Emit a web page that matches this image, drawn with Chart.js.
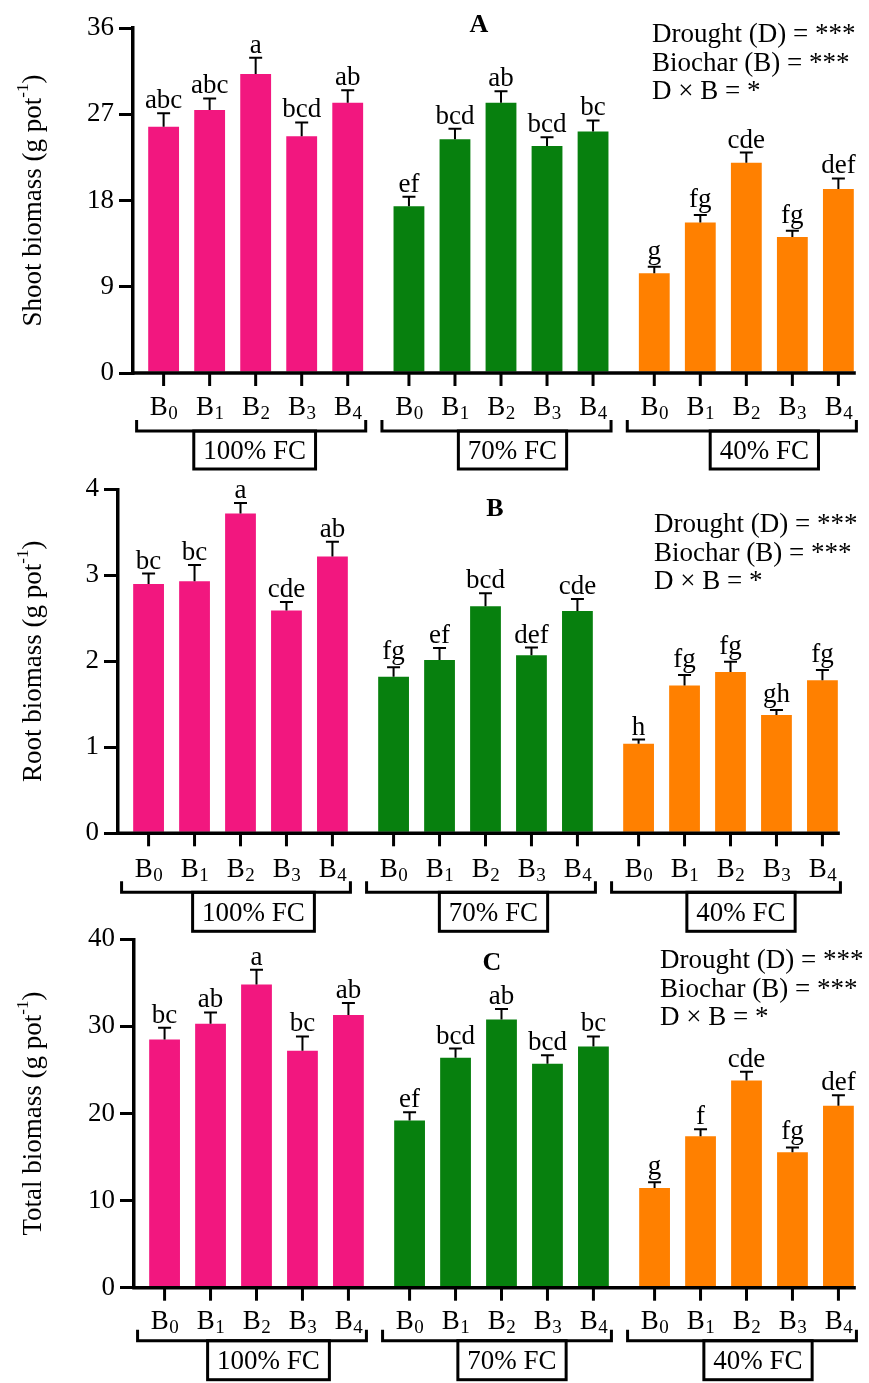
<!DOCTYPE html>
<html>
<head>
<meta charset="utf-8">
<script src="https://cdn.jsdelivr.net/npm/chart.js@4.4.1/dist/chart.umd.min.js"></script>
<style>
html, body { margin: 0; padding: 0; background: #fff; }
#wrap { position: relative; width: 869px; height: 1383px; overflow: hidden; background: #fff; }
#wrap canvas { position: absolute; left: 0; top: 0; }
</style>
</head>
<body>
<div id="wrap">
  <canvas id="shoot" width="869" height="1383"></canvas>
  <canvas id="root" width="869" height="1383"></canvas>
  <canvas id="total" width="869" height="1383"></canvas>
</div>
<script>
// biochar levels (subscript of B) and drought regimes
const biochar = ['0', '1', '2', '3', '4'];
const regimes = ['100% FC', '70% FC', '40% FC'];
const regimeColors = ['#F2177F', '#07800E', '#FF8000'];

// rows = regime, columns = B0..B4
const shootMean = [[25.7, 27.45, 31.2, 24.7, 28.2], [17.4, 24.4, 28.2, 23.7, 25.2], [10.4, 15.7, 21.95, 14.2, 19.2]];
const shootErr = [[1.4, 1.2, 1.7, 1.45, 1.3], [1.0, 1.1, 1.2, 0.9, 1.15], [0.7, 0.8, 1.05, 0.65, 1.1]];
const shootLetters = [['abc', 'abc', 'a', 'bcd', 'ab'], ['ef', 'bcd', 'ab', 'bcd', 'bc'], ['g', 'fg', 'cde', 'fg', 'def']];

const rootMean = [[2.90, 2.93, 3.72, 2.59, 3.22], [1.82, 2.015, 2.64, 2.07, 2.585], [1.04, 1.72, 1.875, 1.375, 1.78]];
const rootErr = [[0.12, 0.19, 0.12, 0.10, 0.17], [0.11, 0.14, 0.15, 0.09, 0.14], [0.05, 0.12, 0.12, 0.06, 0.12]];
const rootLetters = [['bc', 'bc', 'a', 'cde', 'ab'], ['fg', 'ef', 'bcd', 'def', 'cde'], ['h', 'fg', 'fg', 'gh', 'fg']];

const totalMean = [[28.5, 30.3, 34.8, 27.2, 31.3], [19.2, 26.4, 30.8, 25.7, 27.7], [11.45, 17.4, 23.8, 15.55, 20.9]];
const totalErr = [[1.35, 1.3, 1.7, 1.65, 1.4], [0.95, 1.05, 1.2, 1.0, 1.15], [0.65, 0.8, 1.0, 0.55, 1.2]];
const totalLetters = [['bc', 'ab', 'a', 'bc', 'ab'], ['ef', 'bcd', 'ab', 'bcd', 'bc'], ['g', 'f', 'cde', 'fg', 'def']];

const statsLines = ['Drought (D) = ***', 'Biochar (B) = ***', 'D \u00d7 B = *'];

const SERIF = '"Liberation Serif", "Times New Roman", serif';

const panels = [
    { id: 'shoot', mean: shootMean, err: shootErr, letters: shootLetters, yMax: 36, yStep: 9,
      title: 'Shoot biomass (g pot', tag: 'A',
      axisX: 133, top: 28, bottom: 373, right: 873.25,
      labelDrop: 42, bracketDrop: 58, boxH: 38,
      boxShift: [-1, 11.5, 18], tagPos: [479, 32], statsPos: [652, 42] },
    { id: 'root', mean: rootMean, err: rootErr, letters: rootLetters, yMax: 4, yStep: 1,
      title: 'Root biomass (g pot', tag: 'B',
      axisX: 118, top: 489.3, bottom: 833.3, right: 853,
      labelDrop: 44, bracketDrop: 59, boxH: 39,
      boxShift: [13, 8, 10.5], tagPos: [495, 516], statsPos: [654, 532] },
    { id: 'total', mean: totalMean, err: totalErr, letters: totalLetters, yMax: 40, yStep: 10,
      title: 'Total biomass (g pot', tag: 'C',
      axisX: 134, top: 939.3, bottom: 1287.7, right: 877.25,
      labelDrop: 41, bracketDrop: 53, boxH: 39,
      boxShift: [12, 10.5, 11.5], tagPos: [492, 970], statsPos: [660, 968] }
];

const drawExtras = (chart, p) => {
    const ctx = chart.ctx;
    const area = chart.chartArea;
    const yScale = chart.scales.y;
    ctx.save();
    ctx.fillStyle = '#000';
    ctx.strokeStyle = '#000';
    ctx.lineCap = 'butt';

    // x axis line, ending just past the last bar
    const lastBar = chart.getDatasetMeta(biochar.length - 1).data[regimes.length - 1];
    ctx.lineWidth = 3.5;
    ctx.beginPath();
    ctx.moveTo(area.left - 1.75, area.bottom);
    ctx.lineTo(lastBar.x + lastBar.width / 2 + 2, area.bottom);
    ctx.stroke();

    regimes.forEach((reg, ri) => {
        biochar.forEach((b, bi) => {
            const bar = chart.getDatasetMeta(bi).data[ri];
            const capY = yScale.getPixelForValue(p.mean[ri][bi] + p.err[ri][bi]);
            // error bar (upper half only)
            ctx.lineWidth = 2;
            ctx.beginPath();
            ctx.moveTo(bar.x, bar.y);
            ctx.lineTo(bar.x, capY);
            ctx.moveTo(bar.x - 6.5, capY);
            ctx.lineTo(bar.x + 6.5, capY);
            ctx.stroke();
            // significance letters
            const letters = p.letters[ri][bi];
            ctx.font = '27px ' + SERIF;
            ctx.textAlign = 'center';
            ctx.textBaseline = 'alphabetic';
            ctx.fillText(letters, bar.x, capY - 5 - (letters.includes('g') ? 3 : 0));
            // tick mark under bar
            ctx.lineWidth = 3;
            ctx.beginPath();
            ctx.moveTo(bar.x, area.bottom);
            ctx.lineTo(bar.x, area.bottom + 13);
            ctx.stroke();
            // B with subscript
            ctx.font = '27px ' + SERIF;
            const wB = ctx.measureText('B').width;
            ctx.font = '19px ' + SERIF;
            const wS = ctx.measureText(b).width;
            const x0 = bar.x - (wB + wS) / 2;
            ctx.textAlign = 'left';
            ctx.font = '27px ' + SERIF;
            ctx.fillText('B', x0, area.bottom + p.labelDrop);
            ctx.font = '19px ' + SERIF;
            ctx.fillText(b, x0 + wB + 0.5, area.bottom + p.labelDrop + 4);
        });

        // bracket under the group
        const first = chart.getDatasetMeta(0).data[ri];
        const last = chart.getDatasetMeta(biochar.length - 1).data[ri];
        const mid = chart.getDatasetMeta(2).data[ri];
        const by = area.bottom + p.bracketDrop;
        ctx.lineWidth = 3;
        ctx.lineJoin = 'miter';
        ctx.beginPath();
        ctx.moveTo(first.x - 27, by - 11);
        ctx.lineTo(first.x - 27, by);
        ctx.lineTo(last.x + 18, by);
        ctx.lineTo(last.x + 18, by - 11);
        ctx.stroke();

        // boxed regime label
        ctx.font = '27px ' + SERIF;
        ctx.textAlign = 'center';
        const cx = mid.x + p.boxShift[ri];
        const tw = ctx.measureText(reg).width;
        ctx.strokeRect(cx - tw / 2 - 9.5, by, tw + 19, p.boxH);
        ctx.fillText(reg, cx, by + p.boxH / 2 + 9);
    });

    // panel tag
    ctx.font = 'bold 26px ' + SERIF;
    ctx.textAlign = 'center';
    ctx.fillText(p.tag, p.tagPos[0], p.tagPos[1]);

    // ANOVA summary
    ctx.font = '27px ' + SERIF;
    ctx.textAlign = 'left';
    statsLines.forEach((line, i) => {
        ctx.fillText(line, p.statsPos[0], p.statsPos[1] + i * 28.5);
    });

    // y axis title with superscript
    const cy = (area.top + area.bottom) / 2;
    ctx.translate(34, cy);
    ctx.rotate(-Math.PI / 2);
    ctx.font = '27px ' + SERIF;
    const w1 = ctx.measureText(p.title).width;
    ctx.font = '17px ' + SERIF;
    const w2 = ctx.measureText('-1').width;
    ctx.font = '27px ' + SERIF;
    const w3 = ctx.measureText(')').width;
    let tx = -(w1 + w2 + w3) / 2;
    ctx.textAlign = 'left';
    ctx.textBaseline = 'middle';
    ctx.fillText(p.title, tx, 0);
    tx += w1;
    ctx.font = '17px ' + SERIF;
    ctx.fillText('-1', tx, -10);
    tx += w2;
    ctx.font = '27px ' + SERIF;
    ctx.fillText(')', tx, 0);
    ctx.restore();
};

const makeChart = (p) => {
    const datasets = biochar.map((b, bi) => ({
        label: 'B' + b,
        data: regimes.map((r, ri) => p.mean[ri][bi]),
        backgroundColor: regimeColors,
        borderWidth: 0,
        categoryPercentage: 0.938,
        barPercentage: 0.67
    }));
    return new Chart(document.getElementById(p.id), {
        type: 'bar',
        data: { labels: regimes, datasets: datasets },
        options: {
            responsive: false,
            animation: false,
            layout: { padding: { left: 0, top: p.top, right: 869 - p.right, bottom: 0 } },
            plugins: { legend: { display: false }, tooltip: { enabled: false } },
            scales: {
                x: {
                    ticks: { display: false },
                    grid: { display: false },
                    border: { display: false },
                    afterFit: (s) => { s.height = 1383 - p.bottom; }
                },
                y: {
                    min: 0,
                    max: p.yMax,
                    ticks: { stepSize: p.yStep, padding: 5, color: '#000', font: { family: SERIF, size: 27 } },
                    grid: { drawOnChartArea: false, drawTicks: true, tickLength: 14, lineWidth: 3, color: '#000' },
                    border: { display: true, color: '#000', width: 3.5 },
                    afterFit: (s) => { s.width = p.axisX; }
                }
            }
        },
        plugins: [{ id: 'extras', afterDatasetsDraw: (chart) => drawExtras(chart, p) }]
    });
};

panels.forEach(makeChart);
</script>
</body>
</html>
